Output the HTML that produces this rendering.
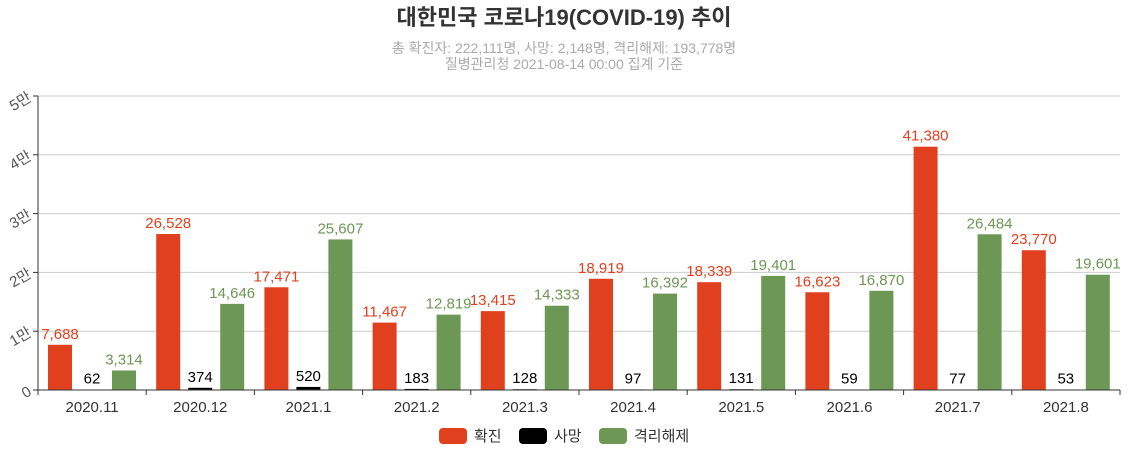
<!DOCTYPE html>
<html><head><meta charset="utf-8"><style>
body{margin:0;background:#fff;font-family:"Liberation Sans","Noto Sans CJK KR",sans-serif;}
svg text{font-family:"Liberation Sans","Noto Sans CJK KR",sans-serif;}
</style></head><body>
<svg id="c" width="1129" height="452">
<text x="564" y="25" text-anchor="middle" font-size="22" font-weight="bold" fill="#333">대한민국 코로나19(COVID-19) 추이</text>
<text x="564" y="53" text-anchor="middle" font-size="14" fill="#aaa">총 확진자: 222,111명, 사망: 2,148명, 격리해제: 193,778명</text>
<text x="564" y="69" text-anchor="middle" font-size="14" fill="#aaa">질병관리청 2021-08-14 00:00 집계 기준</text>
<g id="grid"></g><g id="bars"></g><g id="axes"></g>
<g>
<rect x="439" y="428" width="28" height="16" rx="4" fill="#e1401f"/>
<text x="474" y="441" font-size="15" fill="#333">확진</text>
<rect x="519" y="428" width="28" height="16" rx="4" fill="#000"/>
<text x="554" y="441" font-size="15" fill="#333">사망</text>
<rect x="599" y="428" width="28" height="16" rx="4" fill="#6d9755"/>
<text x="634" y="441" font-size="15" fill="#333">격리해제</text>
</g>
</svg>
<script>
const categories=["2020.11","2020.12","2021.1","2021.2","2021.3","2021.4","2021.5","2021.6","2021.7","2021.8"];
const confirmed=[7688,26528,17471,11467,13415,18919,18339,16623,41380,23770];
const deaths=[62,374,520,183,128,97,131,59,77,53];
const released=[3314,14646,25607,12819,14333,16392,19401,16870,26484,19601];
const yTicks=[0,10000,20000,30000,40000,50000];
const yTickLabels=["0","1만","2만","3만","4만","5만"];
const NS="http://www.w3.org/2000/svg";
const X0=38,X1=1120,Y0=390,Y1=96,YMAX=50000;
const bw=(X1-X0)/categories.length;
const y=v=>Y0-(v/YMAX)*(Y0-Y1);
const x=i=>X0+i*bw;
function mk(tag,attrs,parent){const e=document.createElementNS(NS,tag);for(const k in attrs)e.setAttribute(k,attrs[k]);document.getElementById(parent).appendChild(e);return e;}
yTicks.forEach((t,i)=>{
 const g=mk("line",{x1:X0,x2:X1,y1:y(t),y2:y(t),stroke:i?"#ccc":"#333","stroke-width":1},"grid");
 
 
 mk("line",{x1:X0-5,x2:X0,y1:y(t),y2:y(t),stroke:"#333"},"axes");
 const l=mk("text",{x:30,y:y(t)+5,"text-anchor":"end","font-size":15,fill:"#555",transform:`rotate(-30 30 ${y(t)})`},"axes");
 l.textContent=yTickLabels[i];
 
 
});
const ya=mk("line",{x1:X0,x2:X0,y1:Y1,y2:Y0,stroke:"#333"},"axes");


const series=[[confirmed,"#e1401f","#e1401f","confirmed"],[deaths,"#000","#000","death"],[released,"#6d9755","#6d9755","released"]];
categories.forEach((c,i)=>{
 mk("line",{x1:x(i),x2:x(i),y1:Y0,y2:Y0+5,stroke:"#333"},"axes");
 const l=mk("text",{x:x(i)+bw/2,y:Y0+22,"text-anchor":"middle","font-size":15,fill:"#333"},"axes");
 l.textContent=c;
 
 
 series.forEach((s,j)=>{
  const v=s[0][i];const bx=x(i)+10+j*32;
  const r=mk("rect",{x:bx,y:y(v),width:24,height:Y0-y(v),fill:s[1]},"bars");
  
  
  const t=mk("text",{x:bx+12,y:y(v)-6,"text-anchor":"middle","font-size":15,fill:s[2]},"bars");
  t.textContent=v.toLocaleString("en-US");
  
  
 });
});
mk("line",{x1:X1,x2:X1,y1:Y0,y2:Y0+5,stroke:"#333"},"axes");
const xa=mk("line",{x1:X0,x2:X1,y1:Y0,y2:Y0,stroke:"#333"},"axes");


</script>
</body></html>
